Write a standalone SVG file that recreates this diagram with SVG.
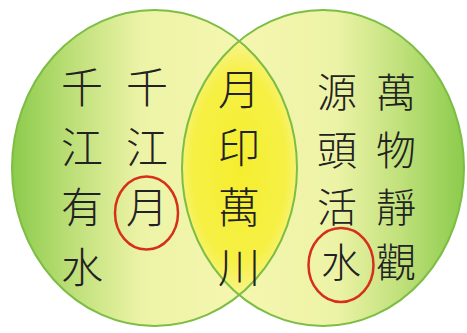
<svg xmlns="http://www.w3.org/2000/svg" width="467" height="333" viewBox="0 0 467 333">
  <defs>
    <linearGradient id="gL" gradientUnits="userSpaceOnUse" x1="12" y1="0" x2="297" y2="0">
      <stop offset="0" stop-color="#8ccb4c"/>
      <stop offset="0.22" stop-color="#bfe07a"/>
      <stop offset="0.45" stop-color="#ecf3a6"/>
      <stop offset="1" stop-color="#fbf8b4"/>
    </linearGradient>
    <linearGradient id="gR" gradientUnits="userSpaceOnUse" x1="182" y1="0" x2="464" y2="0">
      <stop offset="0" stop-color="#fbf8b4"/>
      <stop offset="0.55" stop-color="#ecf3a6"/>
      <stop offset="0.78" stop-color="#bfe07a"/>
      <stop offset="1" stop-color="#8ccb4c"/>
    </linearGradient>
    <radialGradient id="gM" gradientUnits="userSpaceOnUse" cx="239" cy="168" r="135" gradientTransform="translate(239 168) scale(0.5 1) translate(-239 -168)">
      <stop offset="0" stop-color="#f5ee2e"/>
      <stop offset="0.7" stop-color="#f6f046"/>
      <stop offset="1" stop-color="#f8f59c"/>
    </radialGradient>
    <clipPath id="clipL">
      <ellipse cx="154.5" cy="168" rx="142.5" ry="158"/>
    </clipPath>
    <style>
      .edge { fill: none; stroke: #7dbd45; stroke-width: 2; }
      .t { font-family: "Noto Sans CJK TC", "Noto Sans CJK SC", sans-serif; font-size: 42px; font-weight: 300; fill: #222222; text-anchor: middle; }
      .tr { font-size: 40px; }
      .ring { fill: none; stroke: #d6301c; stroke-width: 2.5; }
    </style>
  </defs>
  <rect width="467" height="333" fill="#ffffff"/>
  <g id="circle-left">
    <ellipse cx="154.5" cy="168" rx="142.5" ry="158" fill="url(#gL)"/>
  </g>
  <g id="circle-right">
    <ellipse cx="323" cy="168" rx="141" ry="158" fill="url(#gR)"/>
  </g>
  <g id="overlap">
    <ellipse cx="323" cy="168" rx="141" ry="158" fill="url(#gM)" clip-path="url(#clipL)"/>
  </g>
  <g id="outlines">
    <ellipse class="edge" cx="154.5" cy="168" rx="142.5" ry="158"/>
    <ellipse class="edge" cx="323" cy="168" rx="141" ry="158"/>
  </g>
  <g id="left-text">
    <text class="t" x="82" y="103">千</text>
    <text class="t" x="82" y="163">江</text>
    <text class="t" x="82" y="223">有</text>
    <text class="t" x="82" y="283">水</text>
    <text class="t" x="147" y="103">千</text>
    <text class="t" x="147" y="163">江</text>
    <text class="t" x="147" y="223">月</text>
    <ellipse class="ring" cx="146.5" cy="213" rx="31.5" ry="36.5"/>
  </g>
  <g id="middle-text">
    <text class="t" x="239" y="105">月</text>
    <text class="t" x="239" y="163">印</text>
    <text class="t" x="239" y="223">萬</text>
    <text class="t" x="239" y="283">川</text>
  </g>
  <g id="right-text">
    <text class="t tr" x="337" y="107">源</text>
    <text class="t tr" x="337" y="165">頭</text>
    <text class="t tr" x="337" y="222">活</text>
    <text class="t tr" x="341" y="277">水</text>
    <text class="t tr" x="396" y="107">萬</text>
    <text class="t tr" x="396" y="165">物</text>
    <text class="t tr" x="396" y="222">靜</text>
    <text class="t tr" x="396" y="277">觀</text>
    <ellipse class="ring" cx="341" cy="265" rx="32.5" ry="37"/>
  </g>
</svg>
